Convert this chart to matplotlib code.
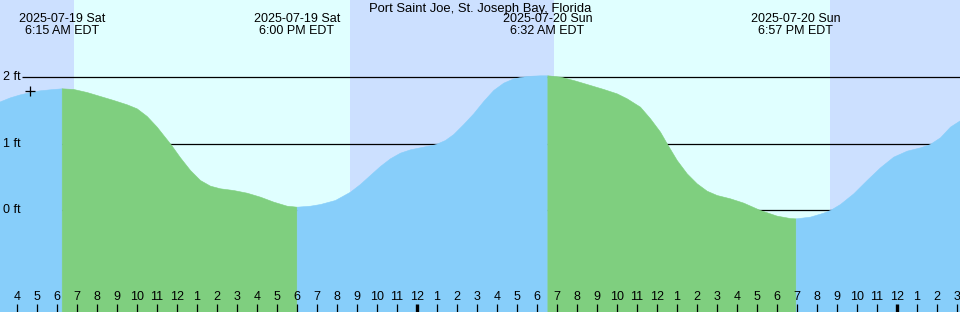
import numpy as np
import matplotlib
matplotlib.use("Agg")
import matplotlib.pyplot as plt

plt.rcParams["font.family"] = ["Liberation Sans", "DejaVu Sans"]

title = "Port Saint Joe, St. Joseph Bay, Florida"

# hours since 2025-07-19 00:00 EDT, height in ft
hours = [3.1, 3.665, 4.165, 4.665, 5.165, 5.665, 6.25, 6.83, 7.5, 8.165,
         8.83, 9.5, 10.0, 10.5, 11.0, 11.33, 11.7, 12.165, 12.665, 13.165,
         13.665, 14.165, 14.83, 15.5, 16.165, 16.83, 17.5, 18.0, 18.665,
         19.165, 19.915, 20.665, 21.165, 21.665, 22.165, 22.665, 23.165,
         23.665, 24.33, 24.915, 25.415, 25.83, 26.33, 26.83, 27.33, 27.83,
         28.33, 28.83, 29.5, 30.165, 30.533, 31.165, 31.83, 32.5, 33.33,
         34.0, 34.5, 35.165, 35.665, 36.165, 36.53, 37.0, 37.5, 38.0, 38.5,
         39.0, 39.665, 40.33, 41.165, 42.0, 42.665, 42.95, 43.665, 44.33,
         44.665, 45.165, 45.83, 46.5, 47.165, 47.83, 48.5, 49.165, 49.63,
         50.165, 50.665, 51.2]
height = [1.63, 1.698, 1.743, 1.778, 1.804, 1.819, 1.834, 1.824, 1.778, 1.718,
          1.658, 1.593, 1.532, 1.417, 1.256, 1.13, 0.99, 0.794, 0.603, 0.452,
          0.367, 0.327, 0.301, 0.261, 0.201, 0.126, 0.065, 0.05, 0.065,
          0.09, 0.151, 0.276, 0.392, 0.528, 0.663, 0.779, 0.864,
          0.914, 0.955, 0.99, 1.055, 1.145, 1.296, 1.457, 1.643, 1.809,
          1.919, 1.984, 2.02, 2.03, 2.03, 2.01, 1.959, 1.899, 1.824,
          1.758, 1.683, 1.557, 1.382, 1.181, 0.99, 0.754, 0.553, 0.402, 0.291,
          0.226, 0.176, 0.111, 0.0, -0.085, -0.121, -0.126, -0.1, -0.04,
          0.0, 0.09, 0.251, 0.452, 0.643, 0.804, 0.894, 0.944, 0.99,
          1.095, 1.256, 1.36]

# tide extremes (hours) and their labels
extreme_hours = [6.25, 18.0, 30.533, 42.95]
extreme_labels = ["2025-07-19 Sat\n6:15 AM EDT", "2025-07-19 Sat\n6:00 PM EDT",
                  "2025-07-20 Sun\n6:32 AM EDT", "2025-07-20 Sun\n6:57 PM EDT"]

# daylight periods (sunrise, sunset)
daylight = [(6.865, 20.665), (30.865, 44.665)]

levels = [0, 1, 2]
level_labels = ["0 ft", "1 ft", "2 ft"]

now_hour, now_height = 4.67, 1.79

tick_hours = list(range(4, 52))
tick_labels = [str((h % 12) or 12) for h in tick_hours]

xmin, xmax = 3.165, 51.165
ymin, ymax = -1.537, 3.165

night_color = "#cce0ff"
day_color = "#e0ffff"
rise_color = "#87cefa"
fall_color = "#7fcf7f"

fig = plt.figure(figsize=(9.6, 3.12), dpi=100)
ax = fig.add_axes([0, 0, 1, 1])
ax.set_xlim(xmin, xmax)
ax.set_ylim(ymin, ymax)
ax.set_facecolor(night_color)
ax.set_axisbelow(False)
for s in ax.spines.values():
    s.set_visible(False)

for rise, set_ in daylight:
    ax.axvspan(rise, set_, color=day_color, lw=0, zorder=0)

ax.hlines(levels, 4.265, xmax, color="black", lw=0.9, zorder=1)
for lv, lab in zip(levels, level_labels):
    ax.text(3.3, lv, lab, ha="left", va="center", fontsize=9, zorder=4)

# water: blue while rising, green while falling
h = np.array(hours)
v = np.array(height)
bounds = [h[0]] + extreme_hours + [h[-1]]
rising = height[1] > height[0]
for a, b in zip(bounds[:-1], bounds[1:]):
    m = (h >= a - 1e-6) & (h <= b + 1e-6)
    c = rise_color if rising else fall_color
    ax.fill_between(h[m], ymin, v[m], facecolor=c, edgecolor=c, lw=0.4, zorder=2)
    rising = not rising

ax.plot([now_hour], [now_height], marker="+", ms=7, mew=0.9, color="black", zorder=5)

for eh, lab in zip(extreme_hours, extreme_labels):
    ax.text(eh, 2.79, lab, ha="center", va="center", fontsize=9,
            linespacing=0.95, zorder=4)

ax.text((xmin + xmax) / 2, 3.035, title, ha="center", va="center", fontsize=9.4, zorder=4)

ax.set_yticks([])
ax.set_xticks(tick_hours)
ax.set_xticklabels(tick_labels, fontsize=9)
ax.tick_params(axis="x", direction="in", length=5.8, width=0.9, pad=-15,
               colors="black")
for t, hr in zip(ax.xaxis.get_major_ticks(), tick_hours):
    if hr % 24 == 0:
        t.tick1line.set_markeredgewidth(2.4)

fig.savefig("out.png", dpi=100)
